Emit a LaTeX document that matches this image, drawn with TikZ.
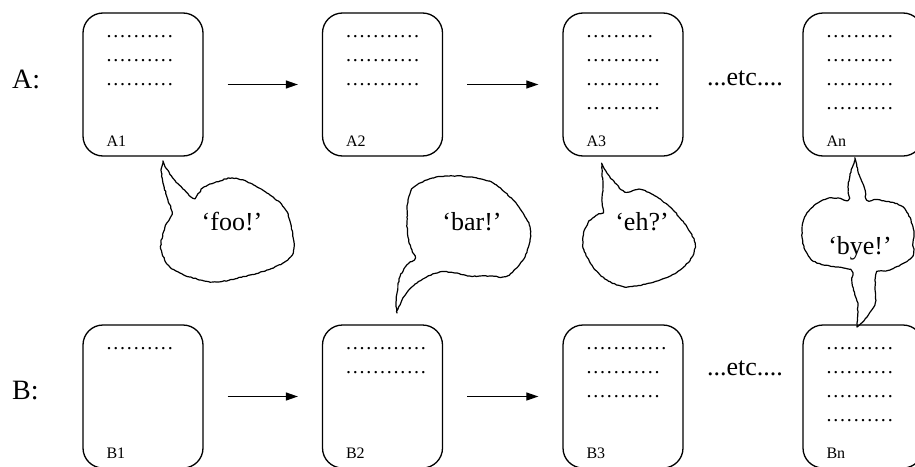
\documentclass[tikz,border=0pt]{standalone}
\usepackage{fontspec}
\setmainfont{Liberation Serif}
\usetikzlibrary{arrows.meta,calc,decorations.pathmorphing}
\newcommand\dotrow[1]{\foreach\i in {1,...,#1}{.\kern1.8pt}}
\begin{document}
\begin{tikzpicture}[x=1pt,y=-1pt,
  card/.style={draw,line width=1.3pt,rounded corners=20pt,minimum width=120pt,minimum height=143pt,inner sep=0pt},
  dots/.style={anchor=base west,inner sep=0pt,font=\fontsize{20}{20}\selectfont},
  lbl/.style={anchor=base west,inner sep=0pt,font=\fontsize{16}{16}\selectfont},
  big/.style={inner sep=0pt,font=\fontsize{26}{26}\selectfont},
  row/.style={anchor=base west,inner sep=0pt,font=\fontsize{28}{28}\selectfont},
  arr/.style={line width=1.2pt,-{Triangle[length=12pt,width=8pt]},shorten <=24pt,shorten >=24pt},
  bubble/.style={draw,line width=1.2pt,line join=round,decorate,decoration={random steps,segment length=2.2pt,amplitude=0.45pt}}]
\pgfmathsetseed{7}
\useasboundingbox (0,0) rectangle (915,466);
\clip (0,0) rectangle (915,466);

% row labels
\node[row] (labA) at (12,88) {A:};
\node[row] (labB) at (12,399) {B:};

% cards
\foreach \n/\x in {1/143,2/382.5,3/623,n/863}{
  \node[card] (A\n) at (\x,84.5) {};
  \node[card] (B\n) at (\x,396.5) {};
  \node[lbl] (lA\n) at ($(A\n.north west)+(24,134)$) {A\n};
  \node[lbl] (lB\n) at ($(B\n.north west)+(24,134)$) {B\n};
}

% dotted text rows
\node[dots] (A1r1) at ($(A1.north west)+(24,25)$) {\dotrow{10}};
\node[dots] (A1r2) at ($(A1.north west)+(24,49)$) {\dotrow{10}};
\node[dots] (A1r3) at ($(A1.north west)+(24,73)$) {\dotrow{10}};
\node[dots] (A2r1) at ($(A2.north west)+(24,25)$) {\dotrow{11}};
\node[dots] (A2r2) at ($(A2.north west)+(24,49)$) {\dotrow{11}};
\node[dots] (A2r3) at ($(A2.north west)+(24,73)$) {\dotrow{11}};
\node[dots] (A3r1) at ($(A3.north west)+(24,25)$) {\dotrow{10}};
\node[dots] (A3r2) at ($(A3.north west)+(24,49)$) {\dotrow{11}};
\node[dots] (A3r3) at ($(A3.north west)+(24,73)$) {\dotrow{11}};
\node[dots] (A3r4) at ($(A3.north west)+(24,97)$) {\dotrow{11}};
\node[dots] (Anr1) at ($(An.north west)+(24,25)$) {\dotrow{10}};
\node[dots] (Anr2) at ($(An.north west)+(24,49)$) {\dotrow{10}};
\node[dots] (Anr3) at ($(An.north west)+(24,73)$) {\dotrow{10}};
\node[dots] (Anr4) at ($(An.north west)+(24,97)$) {\dotrow{10}};
\node[dots] (B1r1) at ($(B1.north west)+(24,25)$) {\dotrow{10}};
\node[dots] (B2r1) at ($(B2.north west)+(24,25)$) {\dotrow{12}};
\node[dots] (B2r2) at ($(B2.north west)+(24,49)$) {\dotrow{12}};
\node[dots] (B3r1) at ($(B3.north west)+(24,25)$) {\dotrow{12}};
\node[dots] (B3r2) at ($(B3.north west)+(24,49)$) {\dotrow{11}};
\node[dots] (B3r3) at ($(B3.north west)+(24,73)$) {\dotrow{11}};
\node[dots] (Bnr1) at ($(Bn.north west)+(24,25)$) {\dotrow{10}};
\node[dots] (Bnr2) at ($(Bn.north west)+(24,49)$) {\dotrow{10}};
\node[dots] (Bnr3) at ($(Bn.north west)+(24,73)$) {\dotrow{10}};
\node[dots] (Bnr4) at ($(Bn.north west)+(24,97)$) {\dotrow{10}};

% etc
\node[big,anchor=base] (etcA) at (745,85) {...etc....};
\node[big,anchor=base] (etcB) at (745,375) {...etc....};

% arrows
\draw[arr] (A1) -- (A2);
\draw[arr] (A2) -- (A3);
\draw[arr] (B1) -- (B2);
\draw[arr] (B2) -- (B3);

% bubbles
\draw[bubble] plot[smooth,tension=0.55] coordinates {(163,163) (172,177) (183,189) (193,198) (199,193) (204,187) (220,181) (232,178) (250,183) (273,197) (287,212) (293,237) (293,253) (283,263) (267,270) (250,275) (217,282) (190,277) (170,267) (162,253) (161,243) (165,227) (169,220) (172,212) (168,200) (163,183) (161,170)} -- cycle;
\node[big] (foo) at (232,222) {‘foo!’};

\draw[bubble] plot[smooth,tension=0.55] coordinates {(397,313) (403,298) (412,287) (425,278) (440,272) (455,273) (470,276) (490,276) (507,276) (523,260) (530,240) (530,227) (523,213) (513,200) (493,183) (470,177) (445,176) (427,180) (413,188) (408,200) (407,217) (408,237) (412,250) (415,258) (407,265) (400,277) (397,293) (396,305)} -- cycle;
\node[big] (bar) at (472,222) {‘bar!’};

\draw[bubble] plot[smooth,tension=0.55] coordinates {(602,165) (607,173) (615,183) (625,192) (635,190) (643,190) (657,197) (673,210) (687,227) (695,243) (692,257) (680,270) (660,280) (627,287) (607,280) (593,267) (584,250) (583,237) (588,223) (597,215) (603,212) (602,200) (603,187) (602,174)} -- cycle;
\node[big] (eh) at (642,222) {‘eh?’};

\draw[bubble] plot[smooth,tension=0.55] coordinates {(855,160) (860,177) (865,190) (867,200) (880,200) (903,207) (913,227) (913,243) (912,257) (890,270) (877,272) (875,287) (875,303) (867,317) (857,327)}
  -- plot[smooth,tension=0.55] coordinates {(858,305) (852,283) (850,270) (817,263) (805,250) (802,230) (807,213) (823,200) (838,198) (848,200) (848,187) (850,174)} -- cycle;
\node[big] (bye) at (860,248) {‘bye!’};
\end{tikzpicture}
\end{document}
